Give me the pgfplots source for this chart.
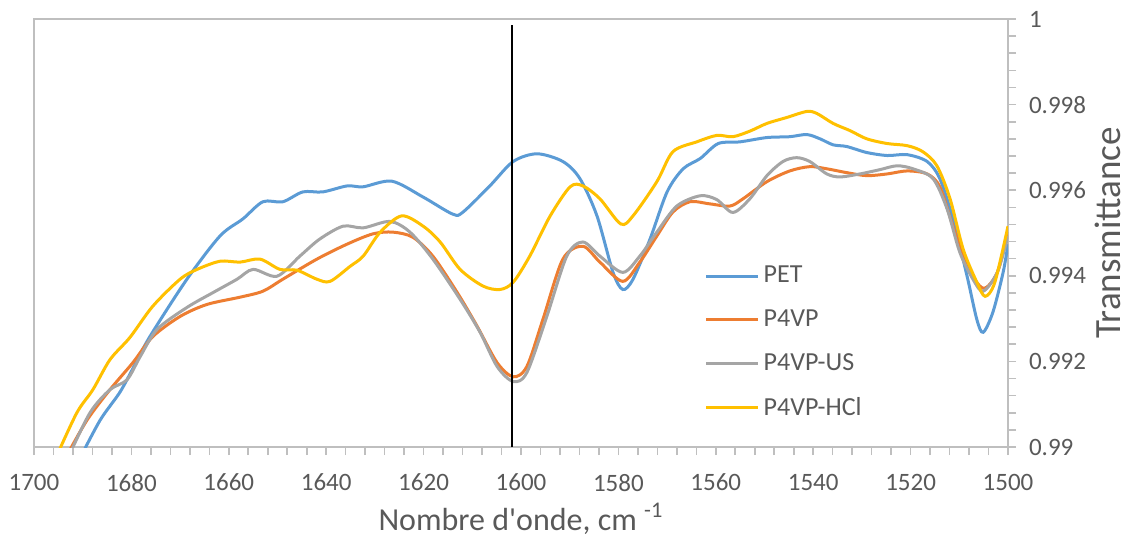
\documentclass[border=0pt]{standalone}
\usepackage{pgfplots}
\pgfplotsset{compat=1.18}
\usepackage{fontspec}
\setmainfont{Carlito}

\definecolor{cpet}{HTML}{5B9BD5}
\definecolor{cp4vp}{HTML}{ED7D31}
\definecolor{cus}{HTML}{A5A5A5}
\definecolor{chcl}{HTML}{FFC000}
\definecolor{axgray}{HTML}{BFBFBF}
\definecolor{txt}{HTML}{595959}

\begin{document}
\begin{tikzpicture}
\useasboundingbox (0,0) rectangle (564pt,267.5pt);
\begin{axis}[
  at={(17pt,44pt)}, anchor=south west,
  scale only axis,
  width=487pt, height=214pt,
  x dir=reverse,
  xmin=1500, xmax=1700,
  ymin=0.99, ymax=1,
  xtick={1500,1520,...,1700},
  ytick={0.99,0.992,...,1.0005},
  minor x tick num=4,
  minor y tick num=4,
  xtick pos=bottom, ytick pos=right,
  yticklabel pos=right,
  tick align=outside,
  major tick length=4pt, minor tick length=4pt,
  axis line style={axgray, line width=1pt},
  every tick/.style={axgray, line width=0.8pt},
  /pgf/number format/assume math mode=true,
  /pgf/number format/1000 sep={},
  yticklabel style={/pgf/number format/fixed, /pgf/number format/precision=3},
  ticklabel style={font=\fontsize{12.5}{14}\selectfont, text=txt},
  xticklabel style={yshift=-6pt},
  yticklabel style={xshift=3pt},
  xlabel={Nombre d\textquotesingle onde, cm \textsuperscript{-1}},
  ylabel={Transmittance},
  every axis x label/.style={at={([yshift=-41.5pt]axis description cs:0.5,0)}, anchor=base,
    inner sep=0pt, font=\fontsize{16}{18}\selectfont, text=txt},
  every axis y label/.style={at={([xshift=56pt]axis description cs:1,0.5)}, anchor=base,
    inner sep=0pt, rotate=90, font=\fontsize{18.5}{20}\selectfont, text=txt},
  legend style={draw=none, fill=none, at={(0.682,0.442)}, anchor=north west,
    font=\fontsize{13}{15}\selectfont, text=txt, row sep=8pt},
  legend cell align=left,
  legend image code/.code={\draw[#1] (0pt,0pt) -- (26pt,0pt);},
  every axis plot/.append style={line width=1.5pt, smooth},
]
\addplot[cpet] coordinates {
(1690.5,0.98975) (1686.4,0.99063) (1682.3,0.99129) (1679.3,0.99192)
(1676.2,0.99258) (1668.6,0.99392) (1661.8,0.99493) (1657.1,0.99533)
(1653.0,0.99573) (1648.9,0.99573) (1644.8,0.99596) (1640.7,0.99596)
(1635.7,0.9961) (1632.4,0.99608) (1626.5,0.99621) (1620.1,0.99584)
(1614.0,0.99544) (1611.9,0.99549) (1606.4,0.9961) (1601.6,0.99667)
(1596.7,0.99685) (1591.4,0.99667) (1587.9,0.99627) (1584.4,0.9954)
(1581.1,0.99408) (1579.1,0.99368) (1577.0,0.99392) (1573.5,0.99486)
(1570.0,0.99596) (1566.7,0.9965) (1563.2,0.99674) (1559.5,0.99709)
(1555.0,0.99713) (1549.5,0.99723) (1544.8,0.99725) (1541.3,0.9973)
(1538.6,0.9972) (1535.9,0.99706) (1533.1,0.99702) (1529.0,0.99688)
(1524.8,0.99681) (1520.7,0.99683) (1516.6,0.99667) (1514.0,0.99627)
(1511.3,0.99533) (1508.4,0.99399) (1506.4,0.99298) (1505.1,0.99268)
(1503.1,0.99315) (1501.0,0.99408) (1500,0.99474)
};
\addlegendentry{PET}
\addplot[cp4vp] coordinates {
(1693.5,0.98975) (1689.1,0.99063) (1684.4,0.99134) (1679.7,0.99197)
(1675.6,0.99258) (1670.0,0.99305) (1664.5,0.99333) (1657.7,0.9935)
(1653.0,0.99364) (1648.9,0.99392) (1641.9,0.99439) (1635.7,0.99474)
(1630.4,0.99498) (1626.3,0.99502) (1622.2,0.9949) (1618.1,0.99446)
(1613.1,0.99361) (1609.0,0.99282) (1604.9,0.99197) (1601.6,0.99164)
(1598.8,0.99188) (1595.5,0.99298) (1591.4,0.99439) (1587.3,0.99469)
(1583.8,0.99432) (1579.1,0.99387) (1575.6,0.99432) (1572.1,0.99493)
(1568.8,0.99549) (1565.3,0.99573) (1561.2,0.99568) (1557.1,0.99563)
(1554.4,0.9958) (1549.5,0.9962) (1544.8,0.99645) (1540.7,0.99655)
(1537.2,0.9965) (1533.1,0.99641) (1529.0,0.99634) (1524.8,0.99638)
(1520.7,0.99645) (1516.6,0.99638) (1514.0,0.99608) (1511.3,0.99516)
(1508.4,0.99422) (1505.1,0.99371) (1502.2,0.99408) (1500,0.99502)
};
\addlegendentry{P4VP}
\addplot[cus] coordinates {
(1693,0.98975) (1688.5,0.9908) (1684.4,0.99134) (1680.9,0.99157)
(1678.2,0.99211) (1674.7,0.99275) (1668.6,0.99326) (1663.2,0.99361)
(1658.3,0.99392) (1655.0,0.99415) (1650.1,0.99399) (1645.4,0.99446)
(1641.3,0.99486) (1636.5,0.99516) (1632.4,0.99512) (1626.9,0.99527)
(1622.8,0.99502) (1618.1,0.99439) (1612.5,0.99345) (1608.4,0.99268)
(1604.9,0.99188) (1601.6,0.99153) (1598.8,0.99174) (1594.7,0.99305)
(1590.6,0.99446) (1587.3,0.99479) (1583.8,0.99446) (1579.1,0.99408)
(1575.6,0.99446) (1572.1,0.99502) (1568.0,0.99563) (1563.2,0.99587)
(1559.8,0.99578) (1556.5,0.99548) (1553.0,0.9958) (1549.5,0.99634)
(1546.2,0.99667) (1543.4,0.99676) (1540.7,0.99667) (1537.2,0.99638)
(1534.5,0.99631) (1530.4,0.99638) (1526.3,0.99648) (1522.8,0.99657)
(1519.5,0.9965) (1515.4,0.99627) (1512.5,0.99556) (1509.9,0.99455)
(1507.2,0.99392) (1505.1,0.99364) (1502.2,0.99408) (1500,0.99493)
};
\addlegendentry{P4VP-US}
\addplot[chcl] coordinates {
(1695.5,0.98975) (1691.2,0.9908) (1687.9,0.99134) (1684.4,0.99204)
(1680.3,0.99256) (1675.6,0.99329) (1670.0,0.99392) (1666.5,0.99415)
(1661.8,0.99434) (1657.7,0.99432) (1653.6,0.99439) (1649.5,0.99415)
(1646.0,0.99413) (1641.9,0.99392) (1639.2,0.99387) (1635.1,0.99422)
(1632.4,0.99446) (1628.9,0.99502) (1624.5,0.9954) (1620.1,0.99516)
(1616.6,0.99479) (1612.5,0.99415) (1607.8,0.99376) (1604.3,0.99368)
(1601.6,0.99385) (1598.2,0.99446) (1594.0,0.9954) (1589.9,0.99608)
(1587.3,0.9961) (1583.8,0.9958) (1579.5,0.99521) (1577.0,0.9954)
(1572.1,0.9962) (1568.8,0.9969) (1563.9,0.99713) (1559.8,0.99728)
(1556.5,0.99725) (1553.0,0.99738) (1549.5,0.99756) (1545.4,0.9977)
(1541.3,0.99784) (1539.2,0.99779) (1535.9,0.99756) (1532.4,0.99739)
(1529.0,0.9972) (1524.8,0.99709) (1520.7,0.99704) (1517.5,0.9969)
(1514.6,0.99657) (1511.9,0.9958) (1509.2,0.99462) (1506.4,0.99385)
(1504.7,0.99352) (1502.7,0.99385) (1500,0.99516)
};
\addlegendentry{P4VP-HCl}
\addplot[black, line width=1.2pt, sharp plot, forget plot] coordinates {(1601.8,0.99) (1601.8,0.99985)};
\end{axis}
\end{tikzpicture}
\end{document}
